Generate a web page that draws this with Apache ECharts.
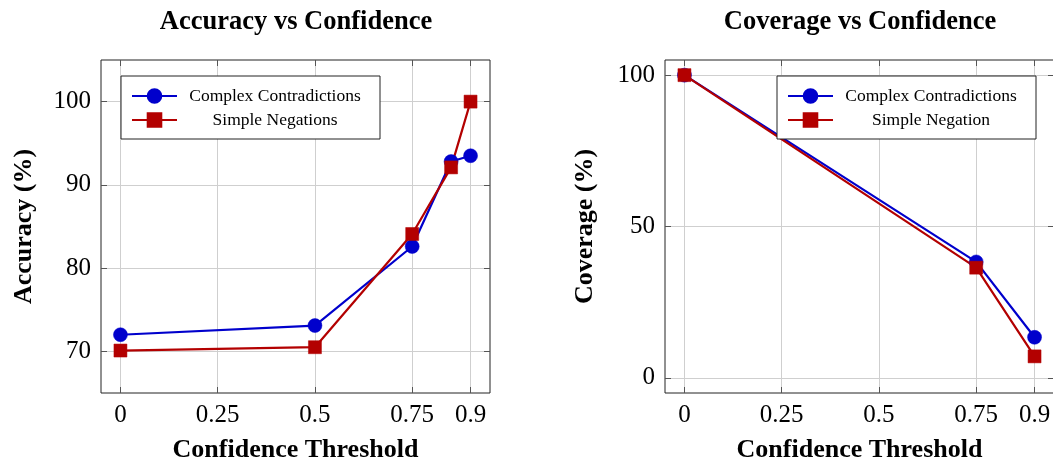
<!DOCTYPE html>
<html>
<head>
<meta charset="utf-8">
<script src="https://cdn.jsdelivr.net/npm/echarts@6/dist/echarts.min.js"></script>
<style>
html,body{margin:0;padding:0;background:#fff;}
#c{width:1053px;height:460px;}
</style>
</head>
<body>
<div id="c"></div>
<script>
// ---- data ----
const accThresholds = [0, 0.5, 0.75, 0.85, 0.9];
const accComplex = [72.0, 73.1, 82.6, 92.8, 93.5];
const accSimple = [70.1, 70.5, 84.1, 92.1, 100.0];
const covThresholds = [0, 0.75, 0.9];
const covComplex = [100, 38.3, 13.4];
const covSimple = [100, 36.4, 7.1];
const xTicks = [0, 0.25, 0.5, 0.75, 0.9];
const accTicks = [70, 80, 90, 100];
const covTicks = [0, 50, 100];
const titles = ['Accuracy vs Confidence', 'Coverage vs Confidence'];
const yNames = ['Accuracy (%)', 'Coverage (%)'];
const xName = 'Confidence Threshold';
const namesLeft = ['Complex Contradictions', 'Simple Negations'];
const namesRight = ['Complex Contradictions', 'Simple Negation'];

const BLUE = '#0000CC', RED = '#B30000';
const FONT = '"Liberation Serif", "Times New Roman", serif';
const pair = (xs, ys) => xs.map((x, i) => [x, ys[i]]);

const grids = [
  {left: 101, top: 60, width: 389, height: 333},
  {left: 665, top: 60, width: 389, height: 333}
];

function xAxes(gi) {
  const base = {
    type: 'value', gridIndex: gi, min: -0.05, max: 0.95,
    axisLine: {show: false, onZero: false}
  };
  return [
    Object.assign({}, base, {
      position: 'bottom',
      name: xName, nameLocation: 'middle', nameGap: 44,
      nameTextStyle: {fontFamily: FONT, fontWeight: 'bold', fontSize: 26, color: '#000'},
      axisTick: {show: true, inside: true, length: 6, customValues: xTicks, lineStyle: {color: '#555'}},
      axisLabel: {show: true, customValues: xTicks, margin: 10, fontFamily: FONT, fontSize: 25, color: '#000'},
      splitLine: {show: true, lineStyle: {color: '#cfcfcf', width: 1}}
    }),
    Object.assign({}, base, {
      position: 'top',
      axisTick: {show: true, inside: true, length: 6, customValues: xTicks, lineStyle: {color: '#555'}},
      axisLabel: {show: false, customValues: xTicks},
      splitLine: {show: false}
    })
  ];
}
function yAxes(gi, min, max, ticks, name, gap) {
  const base = {type: 'value', gridIndex: gi, min: min, max: max, axisLine: {show: false, onZero: false}};
  return [
    Object.assign({}, base, {
      position: 'left',
      name: name, nameLocation: 'middle', nameGap: gap,
      nameTextStyle: {fontFamily: FONT, fontWeight: 'bold', fontSize: 26, color: '#000'},
      axisTick: {show: true, inside: true, length: 6, customValues: ticks, lineStyle: {color: '#555'}},
      axisLabel: {show: true, customValues: ticks, margin: 10, fontFamily: FONT, fontSize: 25, color: '#000'},
      splitLine: {show: true, lineStyle: {color: '#cfcfcf', width: 1}}
    }),
    Object.assign({}, base, {
      position: 'right',
      axisTick: {show: true, inside: true, length: 6, customValues: ticks, lineStyle: {color: '#555'}},
      axisLabel: {show: false, customValues: ticks},
      splitLine: {show: false}
    })
  ];
}

function lineSeries(name, data, color, symbol, size, xi, yi) {
  return {
    type: 'line', name: name, data: data, xAxisIndex: xi, yAxisIndex: yi,
    symbol: symbol, symbolSize: size, showAllSymbol: true,
    lineStyle: {color: color, width: 2.2},
    itemStyle: {color: color, borderColor: color, borderWidth: 0.5},
    emphasis: {disabled: true}, animation: false
  };
}

function legend(left, names) {
  return {
    orient: 'vertical', left: left, top: 76,
    padding: [11, 14, 10, 10], itemGap: 6,
    itemWidth: 45, itemHeight: 17,
    borderColor: '#222', borderWidth: 1, backgroundColor: '#fff',
    data: names,
    selectedMode: false,
    formatter: n => '{c|' + n + '}',
    textStyle: {
      fontFamily: FONT, fontSize: 17.5, color: '#000',
      rich: {c: {width: 182, align: 'center', fontFamily: FONT, fontSize: 17.5, lineHeight: 20, padding: [0, 0, 0, 2]}}
    }
  };
}

const chart = echarts.init(document.getElementById('c'), null, {renderer: 'canvas'});
chart.setOption({
  animation: false,
  backgroundColor: '#fff',
  title: [
    {text: titles[0], left: 291, top: 4, textAlign: 'center',
     textStyle: {fontFamily: FONT, fontWeight: 'bold', fontSize: 26.5, color: '#000'}},
    {text: titles[1], left: 855, top: 4, textAlign: 'center',
     textStyle: {fontFamily: FONT, fontWeight: 'bold', fontSize: 26.5, color: '#000'}}
  ],
  grid: grids.map(g => Object.assign({show: true, borderColor: '#222', borderWidth: 1, backgroundColor: 'transparent', containLabel: false, outerBoundsMode: 'none'}, g)),
  xAxis: [...xAxes(0), ...xAxes(1)],
  yAxis: [...yAxes(0, 65, 105, accTicks, yNames[0], 64), ...yAxes(1, -5, 105, covTicks, yNames[1], 67)],
  legend: [legend(121, namesLeft), legend(777, namesRight)],
  series: [
    lineSeries(namesLeft[0], pair(accThresholds, accComplex), BLUE, 'circle', 14, 0, 0),
    lineSeries(namesLeft[1], pair(accThresholds, accSimple), RED, 'rect', 13, 0, 0),
    lineSeries(namesRight[0], pair(covThresholds, covComplex), BLUE, 'circle', 14, 2, 2),
    lineSeries(namesRight[1], pair(covThresholds, covSimple), RED, 'rect', 13, 2, 2)
  ]
});
</script>
</body>
</html>
